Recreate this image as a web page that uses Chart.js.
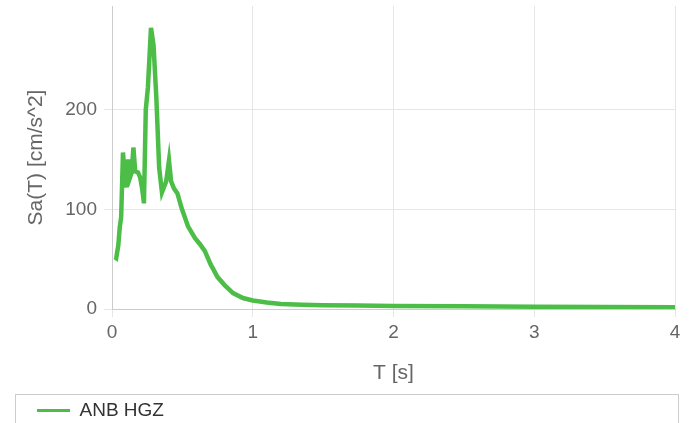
<!DOCTYPE html>
<html>
<head>
<meta charset="utf-8">
<script src="https://cdn.jsdelivr.net/npm/chart.js"></script>
<style>
  body { margin: 0; background: #fff; }
  #wrap { width: 691px; height: 423px; position: relative; }
</style>
</head>
<body>
<div id="wrap"><canvas id="saChart"></canvas></div>
<script>
// response spectrum
var periods = [0.02, 0.03, 0.045, 0.055, 0.065, 0.078, 0.09, 0.102, 0.115, 0.128,
  0.14, 0.152, 0.165, 0.185, 0.2, 0.215, 0.227, 0.24, 0.255, 0.277,
  0.295, 0.315, 0.335, 0.355, 0.385, 0.405, 0.42, 0.44, 0.465, 0.495,
  0.54, 0.59, 0.625, 0.66, 0.7, 0.75, 0.8, 0.86, 0.93, 1.0,
  1.1, 1.2, 1.35, 1.5, 1.75, 2.0, 2.5, 3.0, 3.5, 4.0];
var saValues = [52, 51, 64, 82, 92, 157, 135, 122, 150, 132,
  137, 162, 138, 137, 132, 120, 106, 200, 222, 282,
  265, 212, 142, 117, 128, 149, 128, 121, 116, 101,
  83, 71, 65, 58, 45, 32, 24, 16, 11, 8.5,
  6.5, 5, 4.2, 3.8, 3.4, 3.1, 2.7, 2.3, 2.0, 1.8];
var seriesName = 'ANB HGZ';
var yTicks = [0, 100, 200];
var xTitle = 'T [s]';
var yTitle = 'Sa(T) [cm/s^2]';

var FONT = "'Liberation Sans', Arial, sans-serif";
var GREY = '#666';

var points = periods.map(function (t, i) { return { x: t, y: saValues[i] }; });

// frame round the legend, like the box under the plot
var legendFrame = {
  id: 'legendFrame',
  afterDraw: function (chart) {
    var lg = chart.legend;
    var c = chart.ctx;
    c.save();
    c.strokeStyle = '#cccccc';
    c.lineWidth = 1;
    c.strokeRect(lg.left - 15 + 0.5, lg.top + 0.5, lg.width + 18, 60);
    c.restore();
  }
};

var ctx = document.getElementById('saChart').getContext('2d');
var saChart = new Chart(ctx, {
  type: 'line',
  data: {
    datasets: [{
      label: seriesName,
      data: points,
      borderColor: 'rgb(76,190,72)',
      backgroundColor: 'rgb(76,190,72)',
      borderWidth: 4.5,
      pointRadius: 0,
      fill: false,
      tension: 0
    }]
  },
  options: {
    responsive: true,
    maintainAspectRatio: false,
    animation: false,
    layout: { padding: { left: 30, right: 16, top: 6, bottom: 0 } },
    plugins: {
      tooltip: { enabled: false },
      legend: {
        position: 'bottom',
        align: 'start',
        maxHeight: 29,
        labels: {
          usePointStyle: true,
          pointStyle: 'line',
          pointStyleWidth: 33,
          padding: 7,
          color: '#333',
          font: { family: FONT, size: 19 },
          generateLabels: function (chart) {
            return Chart.defaults.plugins.legend.labels.generateLabels(chart).map(function (l) {
              l.lineWidth = 3;
              return l;
            });
          }
        }
      }
    },
    scales: {
      x: {
        type: 'linear',
        min: 0,
        max: 4,
        ticks: { stepSize: 1, color: GREY, padding: 4, font: { family: FONT, size: 19 } },
        grid: { color: '#e6e6e6' },
        border: { color: '#cccccc' },
        title: { display: true, text: xTitle, color: GREY, padding: { top: 0, bottom: 8 }, font: { family: FONT, size: 21 } },
        afterFit: function (scale) { scale.height = 85; }
      },
      y: {
        min: 0,
        max: 304,
        afterBuildTicks: function (scale) {
          scale.ticks = yTicks.map(function (v) { return { value: v }; });
        },
        ticks: { color: GREY, padding: 7, font: { family: FONT, size: 19 } },
        grid: { color: '#e6e6e6' },
        border: { color: '#cccccc' },
        title: { display: true, text: yTitle, color: GREY, padding: { top: -6, bottom: 0 }, font: { family: FONT, size: 21 } },
        afterFit: function (scale) {
          scale.width = 82;
          scale.paddingTop = 0;
          scale.paddingBottom = 0;
        }
      }
    }
  },
  plugins: [legendFrame]
});
</script>
</body>
</html>
